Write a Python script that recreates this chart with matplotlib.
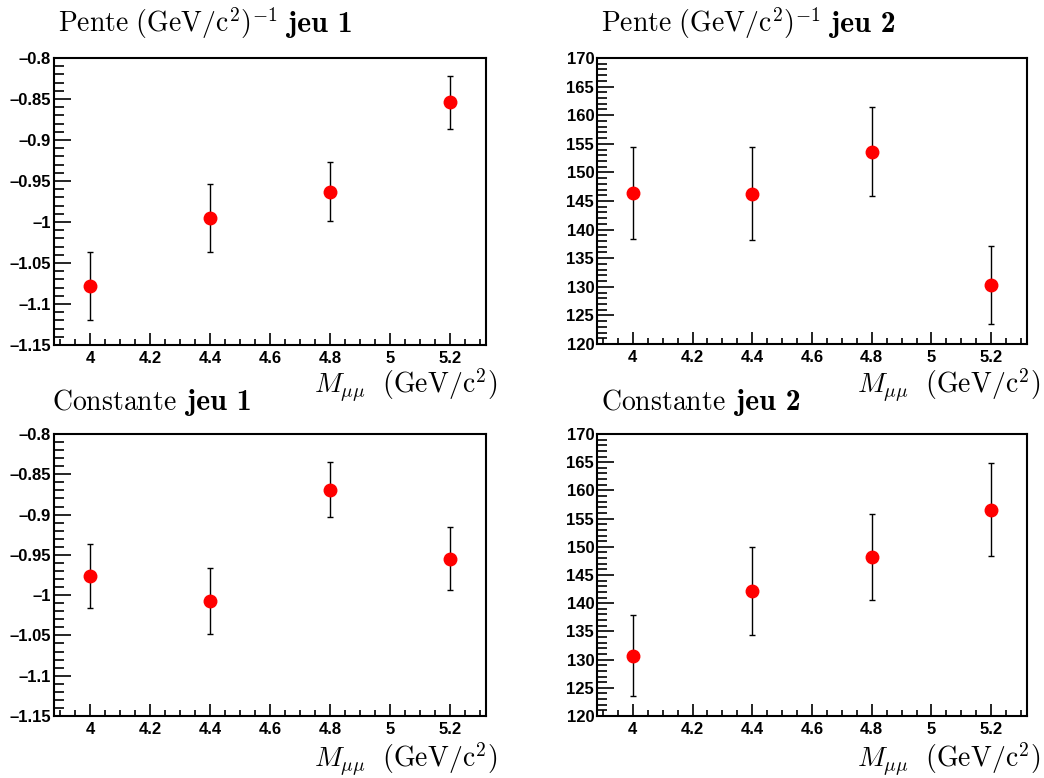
import os
import matplotlib
matplotlib.use("Agg")
import matplotlib.pyplot as plt
from matplotlib.ticker import MultipleLocator, FuncFormatter
from matplotlib.font_manager import FontProperties

plt.rcParams['mathtext.fontset'] = 'cm'

# ---- data ----
mass = [4.0, 4.4, 4.8, 5.2]

pente_jeu1 = [-1.078, -0.995, -0.963, -0.854]
pente_jeu1_err = [0.041, 0.041, 0.036, 0.032]

pente_jeu2 = [146.4, 146.3, 153.6, 130.3]
pente_jeu2_err = [8.0, 8.1, 7.8, 6.8]

const_jeu1 = [-0.976, -1.007, -0.869, -0.955]
const_jeu1_err = [0.040, 0.041, 0.034, 0.039]

const_jeu2 = [130.7, 142.2, 148.2, 156.6]
const_jeu2_err = [7.2, 7.8, 7.6, 8.2]

titles_main = [
    r"$\mathrm{Pente}\ (\mathrm{GeV/c^2})^{-1}$",
    r"$\mathrm{Pente}\ (\mathrm{GeV/c^2})^{-1}$",
    r"$\mathrm{Constante}$",
    r"$\mathrm{Constante}$",
]
titles_bold = ["jeu 1", "jeu 2", "jeu 1", "jeu 2"]
xlabel = r"$M_{\mu\mu}\ \ (\mathrm{GeV/c^2})$"

W, H = 1044, 778
fig = plt.figure(figsize=(W / 100, H / 100), dpi=100)
renderer = fig.canvas.get_renderer()

bold_path = os.path.join(matplotlib.get_data_path(), "fonts", "ttf", "cmb10.ttf")
bold_fp = FontProperties(fname=bold_path, size=21.5)

def px_axes(x0, y0, x1, y1):
    return fig.add_axes([x0 / W, 1 - y1 / H, (x1 - x0) / W, (y1 - y0) / H])

panels = [
    (px_axes(54, 58, 486, 345), pente_jeu1, pente_jeu1_err, (-1.15, -0.8), 0.05, 0.01, 0, (58, 32), (497, 393)),
    (px_axes(597, 58, 1027, 344), pente_jeu2, pente_jeu2_err, (120, 170), 5, 1, 1, (601, 32), (1040, 393)),
    (px_axes(54, 434, 486, 716), const_jeu1, const_jeu1_err, (-1.15, -0.8), 0.05, 0.01, 2, (52, 410), (497, 767)),
    (px_axes(597, 434, 1027, 716), const_jeu2, const_jeu2_err, (120, 170), 5, 1, 3, (601, 410), (1040, 767)),
]

def fmt(v, pos):
    s = "%g" % round(v, 6)
    return s.replace("-", "\u2013")

for ax, vals, errs, ylim, maj, mnr, ti, tpos, xlpos in panels:
    ax.errorbar(mass, vals, yerr=errs, fmt='o', color='red', ecolor='black',
                markersize=9, elinewidth=1.0, capsize=2.5, capthick=1.0, zorder=3)
    ax.set_xlim(3.88, 5.32)
    ax.set_ylim(*ylim)
    ax.xaxis.set_major_locator(MultipleLocator(0.2))
    ax.xaxis.set_minor_locator(MultipleLocator(0.05))
    ax.yaxis.set_major_locator(MultipleLocator(maj))
    ax.yaxis.set_minor_locator(MultipleLocator(mnr))
    ax.xaxis.set_major_formatter(FuncFormatter(fmt))
    ax.yaxis.set_major_formatter(FuncFormatter(fmt))
    ax.tick_params(axis='both', which='both', direction='in', top=False, right=False,
                   width=1.2, color='black')
    ax.tick_params(axis='y', which='major', length=12.5, pad=2)
    ax.tick_params(axis='y', which='minor', length=7)
    ax.tick_params(axis='x', which='major', length=9, pad=4)
    ax.tick_params(axis='x', which='minor', length=4.5)
    for lab in ax.get_xticklabels() + ax.get_yticklabels():
        lab.set_fontfamily('Liberation Sans')
        lab.set_fontweight('bold')
        lab.set_fontsize(12)
    for sp in ax.spines.values():
        sp.set_linewidth(1.5)
    t1 = fig.text(tpos[0] / W, 1 - tpos[1] / H, titles_main[ti], fontsize=20,
                  ha='left', va='baseline')
    bb = t1.get_window_extent(renderer=renderer)
    fig.text((bb.x1 + 10) / W, 1 - tpos[1] / H, titles_bold[ti], fontproperties=bold_fp,
             ha='left', va='baseline')
    fig.text(xlpos[0] / W, 1 - xlpos[1] / H, xlabel, fontsize=20, ha='right', va='baseline')

fig.savefig("out.png", dpi=100)
